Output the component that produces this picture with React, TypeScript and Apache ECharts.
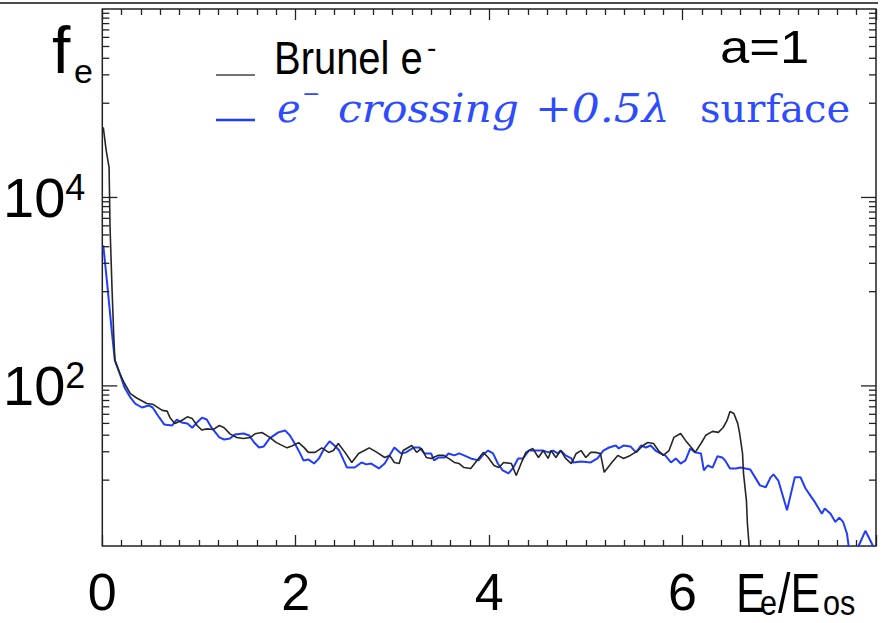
import React, { useEffect, useRef } from "react";
import * as echarts from "echarts";

// ---- data ----
const brunelX = [0.01,0.04,0.07,0.08,0.10,0.12,0.13,0.18,0.23,0.29,0.36,0.46,0.52,0.62,0.67,0.70,0.75,0.82,0.88,0.93,0.98,1.03,1.08,1.15,1.21,1.26,1.32,1.39,1.46,1.53,1.58,1.65,1.72,1.80,1.91,1.96,2.03,2.09,2.13,2.20,2.27,2.34,2.39,2.44,2.51,2.58,2.65,2.71,2.76,2.84,2.92,2.97,3.02,3.07,3.11,3.20,3.25,3.30,3.35,3.40,3.47,3.53,3.58,3.64,3.69,3.74,3.81,3.89,3.94,3.99,4.05,4.10,4.15,4.23,4.28,4.33,4.38,4.45,4.51,4.56,4.61,4.64,4.69,4.74,4.79,4.85,4.90,4.95,5.00,5.05,5.10,5.15,5.19,5.26,5.33,5.39,5.46,5.54,5.59,5.64,5.70,5.75,5.80,5.86,5.91,5.98,6.03,6.10,6.13,6.19,6.24,6.31,6.37,6.42,6.46,6.49,6.53,6.57,6.59,6.62,6.63,6.66,6.67,6.69,6.70];
const brunelF = [55500,31600,20900,4820,1110,304,187,136,106,83,74,65,64,55,54,46,40,43,47,45,38,34,35,34.5,38,36,31,28.4,27.7,28.4,31,32,29,25,22,23,25,22,19.7,19.7,22,19.7,20.6,24.5,19.7,15.4,19.2,20.6,22,19.7,17.4,18.3,15.4,15.0,20.6,23.3,19.7,21.7,17.4,17.0,18.3,18.3,17.0,15.4,15.0,13.6,13.3,17.0,19.7,17.4,14.3,13.6,15.4,15.0,11.2,15.0,19.7,21.7,17.4,20.6,17.0,20.6,17.4,20.6,17.0,15.0,19.2,20.6,17.4,19.7,19.7,19.2,12.1,15.0,18.3,17.0,18.3,20.6,23.3,25.1,24.5,20.6,18.3,20.6,28.4,31.3,26.4,21.7,19.7,24.5,29.9,32.9,32.1,36.2,43.0,53.5,51.0,40.0,31.3,19.2,11.8,6.1,3.5,1.9,0.5];

const crossX = [0.01,0.05,0.10,0.13,0.18,0.23,0.29,0.34,0.41,0.48,0.52,0.59,0.64,0.72,0.77,0.82,0.88,0.93,0.98,1.03,1.08,1.13,1.21,1.26,1.32,1.37,1.46,1.52,1.57,1.62,1.67,1.73,1.82,1.89,1.94,1.99,2.04,2.08,2.13,2.19,2.24,2.30,2.35,2.40,2.45,2.53,2.61,2.68,2.73,2.78,2.86,2.92,2.97,3.02,3.09,3.14,3.22,3.28,3.33,3.40,3.43,3.48,3.54,3.58,3.64,3.69,3.74,3.81,3.89,3.95,3.99,4.04,4.09,4.14,4.20,4.25,4.30,4.35,4.41,4.48,4.56,4.61,4.66,4.71,4.74,4.79,4.85,4.87,4.95,5.05,5.12,5.18,5.24,5.31,5.34,5.39,5.46,5.52,5.57,5.62,5.67,5.72,5.77,5.82,5.88,5.93,5.98,6.03,6.08,6.13,6.19,6.22,6.26,6.31,6.36,6.41,6.44,6.49,6.55,6.60,6.65,6.70,6.75,6.80,6.86,6.91,6.94,6.99,7.08,7.16,7.22,7.27,7.32,7.37,7.44,7.47,7.53,7.58,7.62,7.66,7.70,7.72,7.76,7.80,7.82,7.89,7.94,7.98,8.00];
const crossF = [3100,1225,361,187,136,96,75.5,65,59,62,59,46,39,38,44,41,40,36,41,46,44,36,28.4,27,27.7,30.5,31.3,29.8,25.1,22.2,22.8,27.7,32.1,33.7,29.8,24.5,19.7,16.2,16.6,15.0,17.0,22.2,25.8,23.3,20.6,13.6,13.6,15.4,14.7,15.0,13.3,15.0,18.3,22.2,19.2,19.7,22.2,22.2,19.2,19.2,16.2,17.4,17.4,19.2,18.3,19.2,18.3,17.0,16.2,19.2,20.6,19.2,15.0,12.7,11.8,13.6,17.0,17.0,20.6,20.6,20.6,19.7,20.6,19.2,20.6,18.3,17.0,15.4,15.8,15.4,17.0,20.6,22.2,23.3,21.7,23.3,22.8,19.7,23.3,22.2,23.3,20.6,19.2,18.3,15.4,17.0,15.0,16.2,21.7,19.7,19.2,12.7,14.3,13.6,17.9,17.4,16.2,13.3,13.3,13.6,13.3,13.0,10.7,8.8,8.4,10.7,11.5,9.9,4.8,10.7,10.7,8.2,6.9,5.8,4.4,5.0,4.4,3.6,4.0,3.6,2.7,1.9,0.5,0.5,2.0,2.9,2.3,1.9,1.5];

const xTickLabels = [0, 2, 4, 6];
const yLabelExponents = [2, 4];
const yMajorTicks = [100, 10000];
const yMinorTicks = [10,20,30,40,50,60,70,80,90,1000,2000,3000,4000,5000,6000,7000,8000,9000,100000,200000,300000,400000,500000,600000,700000,800000,900000];

const SANS = '"Liberation Sans", Arial, Helvetica, sans-serif';
const SERIF = '"DejaVu Serif", "Liberation Serif", serif';
const BLUE = "#1f3cff";
const BLUE_TEXT = "#2e4cff";
const AXIS = "#222";

export default function App() {
  const ref = useRef<HTMLDivElement>(null);
  useEffect(() => {
    if (!ref.current) return;
    const chart = echarts.init(ref.current, undefined, { renderer: "svg" });
    const brunel = brunelX.map((x, i) => [x, brunelF[i]]);
    const cross = crossX.map((x, i) => [x, crossF[i]]);
    const yTicks = [
      ...yMajorTicks.map((v) => [0, v, 15]),
      ...yMinorTicks.map((v) => [0, v, 7]),
    ];
    const blueItalic = { fontSize: 40, fontStyle: "italic", fontFamily: SERIF, fill: BLUE_TEXT, verticalAlign: "middle" };
    const option: any = {
      animation: false,
      backgroundColor: "#fff",
      grid: { left: 100, top: 9, right: 10, bottom: 77, show: true, borderColor: AXIS, borderWidth: 1.5, backgroundColor: "transparent" },
      xAxis: [
        {
          type: "value", min: 0, max: 8, interval: 2,
          axisLine: { show: false },
          splitLine: { show: false },
          axisTick: { show: true, inside: true, length: 11, lineStyle: { color: AXIS, width: 1.3 } },
          minorTick: { show: true, splitNumber: 10, length: 6, lineStyle: { color: AXIS, width: 1.3 } },
          axisLabel: {
            margin: 21, fontSize: 52, lineHeight: 50, color: "#000", fontFamily: SANS,
            formatter: (v: number) => (xTickLabels.indexOf(v) >= 0 ? String(v) : ""),
          },
        },
        {
          type: "value", min: 0, max: 8, interval: 2, position: "top",
          axisLine: { show: false }, splitLine: { show: false },
          axisTick: { show: true, inside: true, length: 11, lineStyle: { color: AXIS, width: 1.3 } },
          minorTick: { show: true, splitNumber: 10, length: 6, lineStyle: { color: AXIS, width: 1.3 } },
          axisLabel: { show: false },
        },
      ],
      yAxis: {
        type: "log", logBase: 10, min: 2, max: 1000000,
        axisLine: { show: false }, splitLine: { show: false }, axisTick: { show: false },
        axisLabel: {
          margin: 17, fontFamily: SANS, color: "#000",
          formatter: (v: number) => {
            const e = Math.round(Math.log10(v));
            if (Math.abs(v - Math.pow(10, e)) > 1e-6 * v) return "";
            return yLabelExponents.indexOf(e) >= 0 ? `{b|10}{s|${e}}` : "";
          },
          rich: {
            b: { fontSize: 56, lineHeight: 56, fontFamily: SANS, color: "#000" },
            s: { fontSize: 36, lineHeight: 22, verticalAlign: "top", fontFamily: SANS, color: "#000" },
          },
        },
      },
      series: [
        {
          type: "line", name: "Brunel", data: brunel, showSymbol: false, symbol: "none",
          lineStyle: { color: "#262626", width: 1.6 }, clip: true, z: 3,
        },
        {
          type: "line", name: "cross", data: cross, showSymbol: false, symbol: "none",
          lineStyle: { color: BLUE, width: 2 }, clip: true, z: 2,
        },
        {
          type: "custom", name: "yticks", data: yTicks, encode: { x: 0, y: 1 }, clip: false, silent: true, z: 5,
          renderItem: (params: any, api: any) => {
            const v = api.value(1);
            const len = api.value(2);
            const l = api.coord([0, v]);
            const r = api.coord([8, v]);
            const st = { stroke: AXIS, lineWidth: 1.3 };
            return {
              type: "group",
              children: [
                { type: "line", shape: { x1: l[0], y1: l[1], x2: l[0] + len, y2: l[1] }, style: st },
                { type: "line", shape: { x1: r[0] - len, y1: r[1], x2: r[0], y2: r[1] }, style: st },
              ],
            };
          },
        },
      ],
      graphic: [
        { type: "line", shape: { x1: 0, y1: 3, x2: 878, y2: 3 }, style: { stroke: "#111", lineWidth: 1.5 } },
        { type: "text", x: 52, y: 50, style: { text: "f", fontSize: 66, fontFamily: SANS, fill: "#000", verticalAlign: "middle" } },
        { type: "text", x: 74, y: 71, style: { text: "e", fontSize: 34, fontFamily: SANS, fill: "#000", verticalAlign: "middle" } },
        { type: "line", shape: { x1: 216, y1: 75, x2: 255, y2: 75 }, style: { stroke: "#444", lineWidth: 1.5 } },
        { type: "line", shape: { x1: 216, y1: 120, x2: 255, y2: 120 }, style: { stroke: BLUE, lineWidth: 2.5 } },
        { type: "text", x: 274, y: 58, scaleX: 0.85, style: { text: "Brunel e", fontSize: 47, fontFamily: SANS, fill: "#000", verticalAlign: "middle" } },
        { type: "text", x: 427, y: 47, style: { text: "-", fontSize: 28, fontFamily: SANS, fill: "#000", verticalAlign: "middle" } },
        { type: "text", x: 720, y: 47, scaleX: 1.12, style: { text: "a=1", fontSize: 47, fontFamily: SANS, fill: "#000", verticalAlign: "middle" } },
        { type: "text", x: 277, y: 108, style: { text: "e", ...blueItalic } },
        { type: "text", x: 302, y: 93, style: { text: "\u2212", fontSize: 22, fontFamily: SERIF, fill: BLUE_TEXT, verticalAlign: "middle" } },
        { type: "text", x: 338, y: 108, scaleX: 1.06, style: { text: "crossing", ...blueItalic } },
        { type: "text", x: 535, y: 108, scaleX: 1.1, style: { text: "+0.5\u03bb", ...blueItalic } },
        { type: "text", x: 700, y: 108, style: { text: "surface", ...blueItalic, fontStyle: "normal" } },
        { type: "text", x: 736, y: 593, scaleX: 0.8, style: { text: "E", fontSize: 56, fontFamily: SANS, fill: "#000", verticalAlign: "middle" } },
        { type: "text", x: 760, y: 603, scaleX: 0.85, style: { text: "e", fontSize: 36, fontFamily: SANS, fill: "#000", verticalAlign: "middle" } },
        { type: "text", x: 778, y: 593, scaleX: 0.8, style: { text: "/E", fontSize: 56, fontFamily: SANS, fill: "#000", verticalAlign: "middle" } },
        { type: "text", x: 823, y: 603, scaleX: 0.85, style: { text: "os", fontSize: 36, fontFamily: SANS, fill: "#000", verticalAlign: "middle" } },
      ],
    };
    chart.setOption(option);
    return () => chart.dispose();
  }, []);
  return <div ref={ref} style={{ position: "fixed", left: 0, top: 0, width: 886, height: 623 }} />;
}
